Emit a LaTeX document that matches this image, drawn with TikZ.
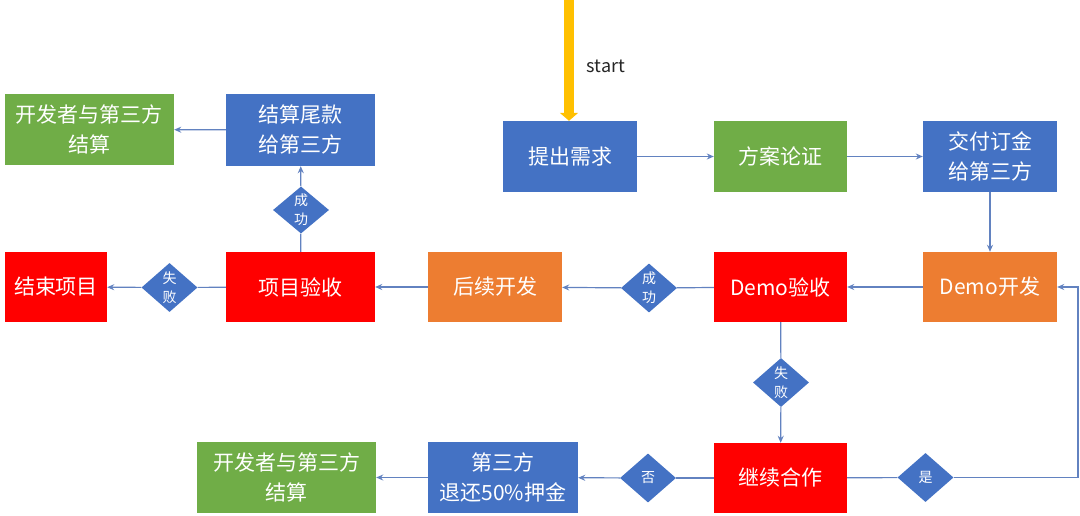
\documentclass[tikz,border=0pt]{standalone}
\usepackage{fontspec}
\setmainfont{Noto Sans CJK SC}
\usetikzlibrary{shapes.geometric,arrows.meta}
\definecolor{cblue}{RGB}{68,114,196}
\definecolor{cgreen}{RGB}{112,173,71}
\definecolor{corange}{RGB}{237,125,49}
\definecolor{cred}{RGB}{255,0,0}
\definecolor{cline}{RGB}{98,130,192}
\definecolor{cyel}{RGB}{255,192,0}
\begin{document}
\begin{tikzpicture}[x=1pt,y=-1pt,
 box/.style={draw=none, text=white, minimum height=71pt, inner sep=0pt, align=center, font=\fontsize{21}{30}\selectfont},
 dia/.style={diamond, fill=cblue, text=white, minimum width=56pt, minimum height=49pt, inner sep=0pt, align=center, font=\fontsize{14}{19}\selectfont},
 conn/.style={draw=cline, line width=1.2pt},
 arr/.style={conn, -{Stealth[length=7pt,width=6pt]}},
]
\useasboundingbox[fill=white] (0,0) rectangle (1080,516);
% boxes
\node[box, fill=cblue, minimum width=134pt] (tq) at (570,156.5) {提出需求};
\node[box, fill=cgreen, minimum width=133pt] (fa) at (780.5,156.5) {方案论证};
\node[box, fill=cblue, minimum width=134pt] (jf) at (990,156.5) {交付订金\\给第三方};
\node[box, fill=corange, minimum width=134pt, minimum height=70pt] (dk) at (990,287) {Demo开发};
\node[box, fill=cred, minimum width=133pt, minimum height=70pt] (dy) at (780.5,287) {Demo验收};
\node[box, fill=corange, minimum width=134pt, minimum height=70pt] (hx) at (495,287) {后续开发};
\node[box, fill=cred, minimum width=149pt, minimum height=70pt] (xy) at (300.5,287) {项目验收};
\node[box, fill=cred, minimum width=102pt, minimum height=70pt] (js) at (56,287) {结束项目};
\node[box, fill=cblue, minimum width=149pt, minimum height=72pt] (jw) at (300.5,130) {结算尾款\\给第三方};
\node[box, fill=cgreen, minimum width=169pt] (g1) at (89.5,129.5) {开发者与第三方\\结算};
\node[box, fill=cred, minimum width=133pt, minimum height=70pt] (jx) at (780.5,478) {继续合作};
\node[box, fill=cblue, minimum width=150pt] (tf) at (503,477.5) {第三方\\退还50\%押金};
\node[box, fill=cgreen, minimum width=179pt] (g2) at (286.5,477.5) {开发者与第三方\\结算};
% diamonds
\node[dia] (d1) at (649,288) {成\\功};
\node[dia] (d2) at (169.5,287.5) {失\\败};
\node[dia, minimum height=47pt] (d3) at (301,210) {成\\功};
\node[dia] (d4) at (781,382.5) {失\\败};
\node[dia] (d5) at (648,478) {否};
\node[dia] (d6) at (925.5,477.5) {是};
% start
\coordinate (s0) at (569,-2);
\draw[cyel, line width=10pt, -{Triangle[width=18pt,length=8pt]}] (s0) -- (s0 |- tq.north);
\node[font=\fontsize{18}{20}\selectfont, text=black!85] (st) at (606,66) {start};
% connectors
\draw[arr] (tq) -- (fa);
\draw[arr] (fa) -- (jf);
\draw[arr] (jf) -- (dk);
\draw[arr] (dk) -- (dy);
\draw[conn] (dy) -- (d1);
\draw[arr] (d1) -- (hx);
\draw[arr] (hx) -- (xy);
\draw[conn] (xy) -- (d2);
\draw[arr] (d2) -- (js);
\draw[conn] (xy) -- (d3);
\draw[arr] (d3) -- (jw);
\draw[arr] (jw) -- (g1);
\draw[conn] (dy) -- (d4);
\draw[arr] (d4) -- (jx);
\draw[conn] (jx) -- (d5);
\draw[arr] (d5) -- (tf);
\draw[arr] (tf) -- (g2);
\draw[conn] (jx) -- (d6);
\coordinate (rc) at (1078,477.5);
\draw[arr] (d6) -- (rc) |- (dk.east);
\end{tikzpicture}
\end{document}
